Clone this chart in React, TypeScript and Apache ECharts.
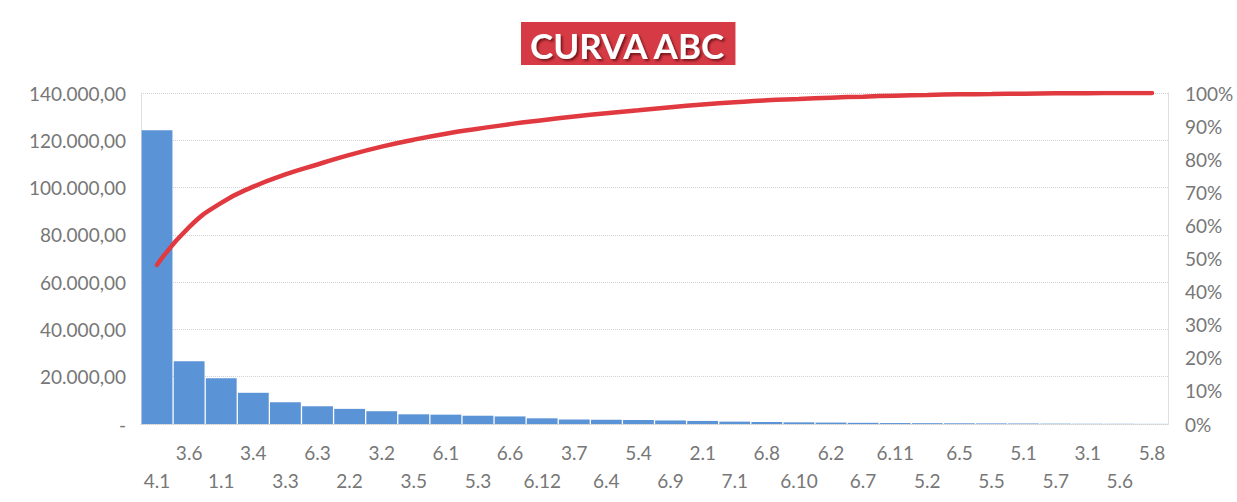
import React, { useEffect, useRef } from "react";
import * as echarts from "echarts";

const categories = ["4.1","3.6","1.1","3.4","3.3","6.3","2.2","3.2","3.5","6.1","5.3","6.6","6.12","3.7","6.4","5.4","6.9","2.1","7.1","6.8","6.10","6.2","6.7","6.11","5.2","6.5","5.5","5.1","5.7","3.1","5.6","5.8"];

const values = [124200, 26500, 19400, 13200, 9200, 7500, 6400, 5400, 4100, 3950, 3500, 3200, 2400, 1900, 1800, 1700, 1500, 1300, 1000, 850, 700, 600, 500, 400, 350, 300, 250, 200, 150, 100, 80, 50];

const cumulativePct = [48.1, 59.5, 66.8, 71.7, 75.4, 78.4, 81.3, 83.8, 85.9, 87.7, 89.2, 90.6, 91.8, 92.9, 93.9, 94.8, 95.7, 96.5, 97.2, 97.8, 98.2, 98.6, 98.9, 99.2, 99.4, 99.6, 99.7, 99.8, 99.9, 99.95, 100, 100];

const FONT = "Lato";
const LABEL_COLOR = "#777777";

function fmtBR(v: number): string {
  if (v === 0) return "-";
  const s = Math.round(v).toString().replace(/\B(?=(\d{3})+(?!\d))/g, ".");
  return s + ",00";
}

export default function App() {
  const ref = useRef<HTMLDivElement>(null);
  useEffect(() => {
    if (!ref.current) return;
    const chart = echarts.init(ref.current, undefined, { renderer: "svg" });
    chart.setOption({
      animation: false,
      backgroundColor: "#ffffff",
      title: {
        text: "CURVA ABC",
        left: 521,
        top: 22,
        backgroundColor: "#d63a44",
        padding: [5, 9, 3, 9],
        textStyle: {
          color: "#ffffff",
          fontFamily: FONT,
          fontWeight: "bold",
          fontSize: 35,
          textShadowColor: "rgba(60,0,0,0.6)",
          textShadowOffsetX: 2,
          textShadowOffsetY: 2,
          textShadowBlur: 2,
        },
      },
      grid: { left: 141, right: 69, top: 93, bottom: 78, containLabel: false },
      xAxis: {
        type: "category",
        data: categories,
        axisTick: { show: false },
        axisLine: { show: true, lineStyle: { color: "#d0d0d0", type: "dotted" } },
        axisLabel: {
          interval: 0,
          margin: 14,
          color: LABEL_COLOR,
          fontFamily: FONT,
          fontSize: 19,
          lineHeight: 28,
          formatter: (v: string, i: number) => (i % 2 === 0 ? "\n" + v : v),
        },
      },
      yAxis: [
        {
          type: "value",
          min: 0,
          max: 140000,
          interval: 20000,
          axisLine: { show: true, lineStyle: { color: "#d8d8d8", type: "dotted" } },
          axisTick: { show: false },
          splitLine: { show: true, lineStyle: { color: "#d3d3d3", type: "dotted" } },
          axisLabel: {
            color: LABEL_COLOR,
            fontFamily: FONT,
            fontSize: 19,
            margin: 15,
            formatter: (v: number) => fmtBR(v),
          },
        },
        {
          type: "value",
          min: 0,
          max: 100,
          interval: 10,
          position: "right",
          axisLine: { show: true, lineStyle: { color: "#d8d8d8", type: "dotted" } },
          axisTick: { show: false },
          splitLine: { show: false },
          axisLabel: {
            color: LABEL_COLOR,
            fontFamily: FONT,
            fontSize: 19,
            margin: 17,
            formatter: (v: number) => v + "%",
          },
        },
      ],
      series: [
        {
          type: "bar",
          data: values,
          barCategoryGap: "4%",
          itemStyle: { color: "#5b93d7" },
        },
        {
          type: "line",
          yAxisIndex: 1,
          data: cumulativePct,
          smooth: 0.5,
          symbol: "none",
          z: 5,
          lineStyle: { color: "#e0393f", width: 4.5, cap: "round" },
        },
      ],
    });
    return () => chart.dispose();
  }, []);
  return (
    <div
      ref={ref}
      style={{ position: "fixed", left: 0, top: 0, width: 1237, height: 502 }}
    />
  );
}
